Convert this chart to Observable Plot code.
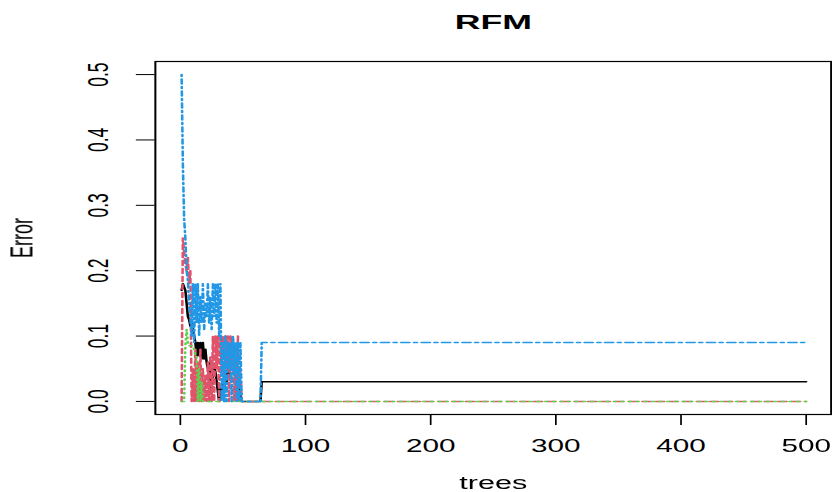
<!DOCTYPE html>
<html><head><meta charset="utf-8">
<script src="https://cdn.jsdelivr.net/npm/d3@7"></script>
<script src="https://cdn.jsdelivr.net/npm/@observablehq/plot@0.6"></script>
<style>
html,body{margin:0;padding:0;background:#fff;overflow:hidden}
#chart{width:490px;transform:scaleX(1.698);transform-origin:0 0}
</style></head><body><div id="chart"></div>
<script>
// Error rates per tree (trees 1..65); after tree 65 the values stay constant up to tree 500
const lastTree = 500;
const xTicks = [0, 100, 200, 300, 400, 500];
const yTicks = [0, 0.1, 0.2, 0.3, 0.4, 0.5];
const yTickLabels = ["0.0", "0.1", "0.2", "0.3", "0.4", "0.5"];

const oob = [0.17,0.18,0.175,0.17,0.15,0.13,0.125,0.115,0.12,0.11,
  0.1,0.09,0.07,0.09,0.07,0.09,0.065,0.09,0.065,0.08,
  0.06,0.05,0.06,0.035,0.02,0.04,0.055,0.045,0.03,0.015,
  0,0.02,0.01,0.03,0.02,0.04,0.03,0.05,0.04,0.05,
  0.055,0.05,0.045,0.05,0.04,0.02,0.03,0.01,0,0,
  0,0,0,0,0,0,0,0,0,0,
  0,0,0,0,0.03];
const class1 = [0,0.25,0.23,0.21,0.2,0.22,0.18,0.2,0,0.05,
  0,0.08,0,0.06,0,0.08,0,0.05,0,0.04,
  0,0.06,0,0.07,0,0.1,0,0.1,0.05,0.1,
  0,0.1,0.05,0.1,0,0.1,0.05,0.1,0,0.1,
  0.05,0.1,0,0.08,0,0.1,0,0.05,0,0,
  0,0,0,0,0,0,0,0,0,0,
  0,0,0,0,0];
const class2 = [0,0,0,0.085,0.11,0.09,0.085,0.085,0.085,0.085,
  0.08,0.07,0.07,0,0.05,0,0.03,0,0,0,
  0,0,0,0,0,0,0,0,0,0,
  0,0,0,0,0,0,0,0,0,0,
  0,0,0,0,0,0,0,0,0,0,
  0,0,0,0,0,0,0,0,0,0,
  0,0,0,0,0];
const class3 = [0.5,0.364,0.28,0.25,0.2,0.185,0.15,0.13,0.1,0.18,
  0.09,0.18,0.12,0.18,0.1,0.16,0.12,0.18,0.11,0.15,
  0.13,0.18,0.12,0.16,0.11,0.18,0.13,0.18,0.12,0.18,
  0.1,0.18,0,0.09,0,0.1,0,0.09,0.05,0.09,
  0,0.1,0.04,0.09,0,0.09,0,0.09,0,0,
  0,0,0,0,0,0,0,0,0,0,
  0,0,0,0,0.09];

function series(vals) {
  const pts = vals.map((v, i) => ({tree: i + 1, err: v}));
  pts.push({tree: lastTree, err: vals[vals.length - 1]});
  return pts;
}

const font = "'Liberation Sans', Arial, Helvetica, sans-serif";
const plot = Plot.plot({
  width: 490,
  height: 492,
  marginLeft: 91,
  marginRight: 1,
  marginTop: 61,
  marginBottom: 78,
  style: {fontFamily: font, background: "white", color: "black", overflow: "visible"},
  x: {domain: [-19.96, 519.96]},
  y: {domain: [-0.02, 0.52]},
  marks: [
    Plot.line(series(oob), {x: "tree", y: "err", stroke: "black", strokeWidth: 1.5}),
    Plot.line(series(class1), {x: "tree", y: "err", stroke: "#DF536B", strokeWidth: 1.5, strokeDasharray: "5,3"}),
    Plot.line(series(class2), {x: "tree", y: "err", stroke: "#61D04F", strokeWidth: 1.5, strokeDasharray: "1.5,3"}),
    Plot.line(series(class3), {x: "tree", y: "err", stroke: "#2297E6", strokeWidth: 1.5, strokeDasharray: "2,2.5,5,2.5"}),
    Plot.frame({stroke: "black", strokeWidth: 1.2}),
    Plot.axisX({ticks: xTicks, tickSize: 11, tickPadding: 14, fontSize: 17.5, label: null, tickFormat: d => String(d)}),
    Plot.axisY({ticks: yTicks, tickSize: 11, tickFormat: () => "", label: null}),
    Plot.text(yTicks, {y: d => d, text: (d, i) => yTickLabels[i], frameAnchor: "left", dx: -33.5, rotate: -90, textAnchor: "middle", lineAnchor: "middle", fontSize: 17.5}),
    Plot.text(["Error"], {frameAnchor: "left", dx: -78, rotate: -90, textAnchor: "middle", lineAnchor: "middle", fontSize: 18}),
    Plot.text(["trees"], {frameAnchor: "bottom", dy: 69, textAnchor: "middle", lineAnchor: "middle", fontSize: 18}),
    Plot.text(["RFM"], {frameAnchor: "top", dy: -39, textAnchor: "middle", lineAnchor: "middle", fontSize: 21, fontWeight: "bold"})
  ]
});
document.getElementById("chart").appendChild(plot);
</script></body></html>
